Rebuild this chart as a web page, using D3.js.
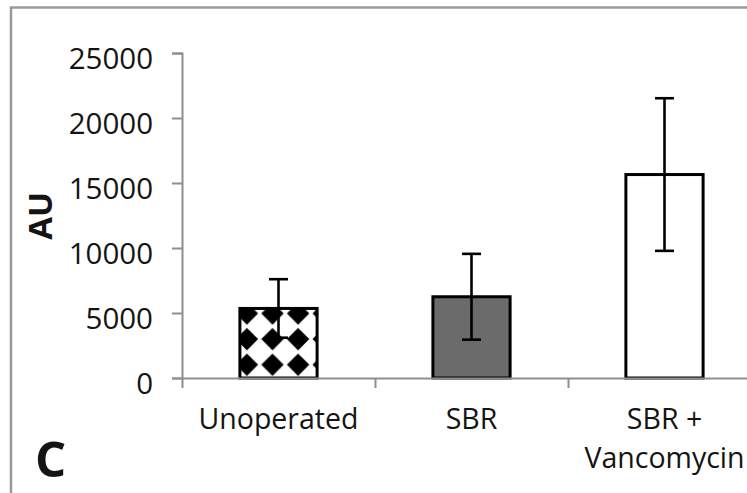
<!DOCTYPE html>
<html>
<head>
<meta charset="utf-8">
<script src="https://cdn.jsdelivr.net/npm/d3@7"></script>
<style>
    body { margin: 0; background: #fff; }
    text { font-family: 'Open Sans', sans-serif; fill: #141414; }
</style>
</head>
<body>
<div id="chart"></div>
<script>
const categories = ['Unoperated', 'SBR', 'SBR + Vancomycin'];
const labelLines = [['Unoperated'], ['SBR'], ['SBR +', 'Vancomycin']];
const means = [5350, 6250, 15650];
const errors = [2250, 3300, 5870];
const yTicks = [0, 5000, 10000, 15000, 20000, 25000];

const width = 747;
const height = 493;

const svg = d3.select('#chart')
    .append('svg')
    .attr('width', width)
    .attr('height', height);

// frame of the original figure panel
svg.append('rect')
    .attr('x', 11)
    .attr('y', 7.5)
    .attr('width', 900)
    .attr('height', 700)
    .attr('fill', 'none')
    .attr('stroke', '#9a9a9a')
    .attr('stroke-width', 2.5);

const x = d3.scaleBand()
    .domain(categories)
    .range([182, 761])
    .paddingInner(0.6)
    .paddingOuter(0.3);

const bounds = d3.scaleLinear()
    .domain([0, categories.length])
    .range(x.range());

const y = d3.scaleLinear()
    .domain([0, 25000])
    .range([378, 53]);

// diamond pattern for the first bar
const step = 25.6;
const defs = svg.append('defs');
const pat = defs.append('pattern')
    .attr('id', 'diamonds')
    .attr('patternUnits', 'userSpaceOnUse')
    .attr('x', x(categories[0]) + 7 - step / 2)
    .attr('y', y(means[0]) + 5 - step / 2)
    .attr('width', step)
    .attr('height', step);
pat.append('rect')
    .attr('width', step)
    .attr('height', step)
    .attr('fill', '#fff');
const c = step / 2, r = 11.2;
pat.append('path')
    .attr('d', `M${c},${c - r}L${c + r},${c}L${c},${c + r}L${c - r},${c}Z`)
    .attr('fill', '#000');

const fills = ['url(#diamonds)', '#6b6b6b', '#fff'];

const data = categories.map((k, i) => ({ k, mean: means[i], err: errors[i], fill: fills[i] }));

svg.append('g')
    .selectAll('rect')
    .data(data)
    .join('rect')
    .attr('x', d => x(d.k))
    .attr('y', d => y(d.mean))
    .attr('width', x.bandwidth())
    .attr('height', d => y(0) - y(d.mean))
    .attr('fill', d => d.fill)
    .attr('stroke', '#000')
    .attr('stroke-width', 3);

// error bars
const eb = svg.append('g')
    .attr('stroke', '#000')
    .attr('stroke-width', 2.6);
const cap = 9.5;
data.forEach(d => {
    const cx = x(d.k) + x.bandwidth() / 2;
    eb.append('line')
        .attr('x1', cx).attr('x2', cx)
        .attr('y1', y(d.mean + d.err)).attr('y2', y(d.mean - d.err));
    [d.mean + d.err, d.mean - d.err].forEach(v => {
        eb.append('line')
            .attr('x1', cx - cap).attr('x2', cx + cap)
            .attr('y1', y(v)).attr('y2', y(v));
    });
});

// axes
const yAxis = svg.append('g')
    .attr('transform', `translate(${x.range()[0]},0)`)
    .call(d3.axisLeft(y)
        .tickValues(yTicks)
        .tickFormat(d3.format('d'))
        .tickSize(10)
        .tickSizeOuter(10)
        .tickPadding(19));
yAxis.selectAll('text')
    .attr('font-size', '29.5px')
    .attr('dy', '0.52em');

const xAxis = svg.append('g')
    .attr('transform', `translate(0,${y(0)})`)
    .call(d3.axisBottom(bounds)
        .tickValues(d3.range(categories.length + 1))
        .tickSize(10)
        .tickSizeOuter(0)
        .tickFormat(''));

[yAxis, xAxis].forEach(g => {
    g.select('.domain').attr('stroke', '#8e8e8e').attr('stroke-width', 2);
    g.selectAll('.tick line').attr('stroke', '#8e8e8e').attr('stroke-width', 2);
    g.selectAll('text').style('font-family', "'Open Sans', sans-serif").attr('fill', '#141414');
});

// category labels
svg.append('g')
    .selectAll('text')
    .data(data)
    .join('text')
    .attr('text-anchor', 'middle')
    .attr('font-size', '28.5px')
    .attr('transform', d => `translate(${x(d.k) + x.bandwidth() / 2},429)`)
    .selectAll('tspan')
    .data((d, i) => labelLines[i])
    .join('tspan')
    .attr('x', 0)
    .attr('y', (t, j) => j * 39)
    .text(t => t);

// y axis title
svg.append('text')
    .attr('transform', 'translate(52,216) rotate(-90)')
    .attr('text-anchor', 'middle')
    .attr('font-size', '33px')
    .attr('font-weight', 'bold')
    .text('AU');

// panel letter
svg.append('text')
    .attr('x', 35)
    .attr('y', 477)
    .attr('font-size', '49px')
    .attr('font-weight', 'bold')
    .text('C');
</script>
</body>
</html>
